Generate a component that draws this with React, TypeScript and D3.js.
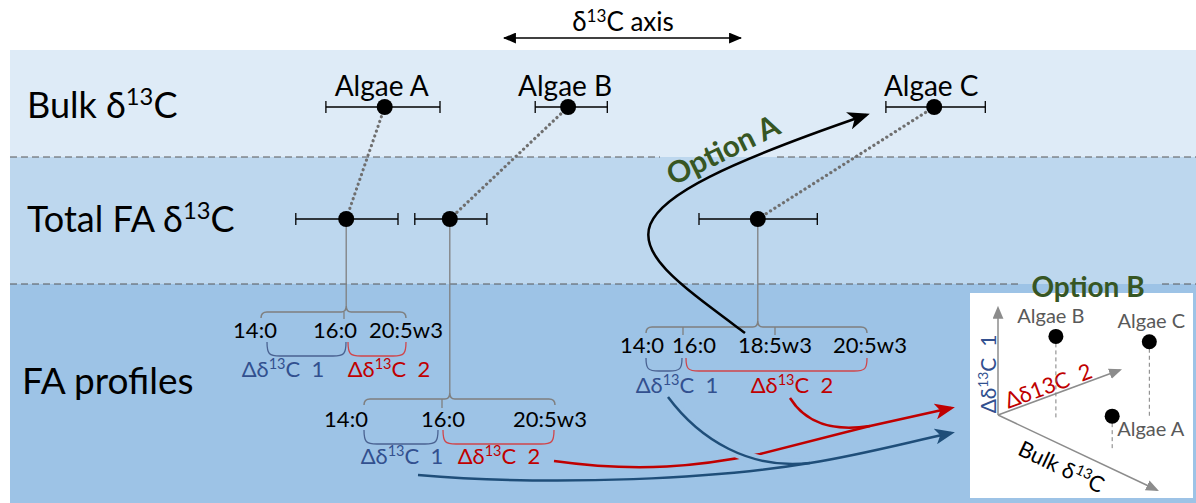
import React from "react";
import * as d3 from "d3";

const W = 1196;
const H = 503;

// Relative δ13C values (0–100 on the shared horizontal axis)
const algaeNames = ["Algae A", "Algae B", "Algae C"];
const bulkMean = [12.1, 38.3, 90.6];
const bulkLow = [3.7, 33.6, 83.7];
const bulkHigh = [20.0, 43.9, 97.9];
const totalFaMean = [6.6, 21.4, 65.4];
const totalFaLow = [-0.6, 16.4, 57.0];
const totalFaHigh = [14.0, 26.7, 73.9];

// Fatty acids measured in each profile
const profileAcidsA = ["14:0", "16:0", "20:5w3"];
const profileAcidsB = ["14:0", "16:0", "20:5w3"];
const profileAcidsC = ["14:0", "16:0", "18:5w3", "20:5w3"];

// Option B space: fraction along each axis
const insetNames = ["Algae A", "Algae B", "Algae C"];
const insetDelta2 = [0.18, 0.24, 0.68];
const insetBulk = [0.58, 0.18, 0.43];
const insetDelta1 = [0.32, 0.76, 0.7];

const FONT = "Lato, 'Open Sans', sans-serif";
const C = {
  band1: "#DEEBF7",
  band2: "#BDD7EE",
  band3: "#9DC3E6",
  dash: "#595959",
  grey: "#7F7F7F",
  blueText: "#32508F",
  blue: "#1F4E79",
  red: "#C00000",
  green: "#375623",
  insetText: "#595959",
};

const x = d3.scaleLinear().domain([0, 100]).range([300, 1000]);
const Y_BULK = 107;
const Y_TOTAL = 219;

const profileLayout = [
  {
    acids: profileAcidsA, src: 0, braceY: 312, braceX: [261, 406], ticks: [344], tickEnd: 319,
    labelX: [255, 335, 406], labelY: 338, d1: [267, 346], d2: [348, 406], bracketY: [342, 356],
    d1X: 283, d2X: 389, deltaY: 377,
  },
  {
    acids: profileAcidsB, src: 1, braceY: 399, braceX: [364, 555], ticks: [442], tickEnd: 408,
    labelX: [346, 443, 550], labelY: 427, d1: [364, 438], d2: [443, 554], bracketY: [430, 444],
    d1X: 402, d2X: 499, deltaY: 464,
  },
  {
    acids: profileAcidsC, src: 2, braceY: 327, braceX: [646, 867], ticks: [683, 775], tickEnd: 335,
    labelX: [642, 694, 775, 870], labelY: 353, d1: [646, 682], d2: [686, 867], bracketY: [358, 371],
    d1X: 677, d2X: 792, deltaY: 393,
  },
];

function SupText(props: any) {
  const { x, y, size, fill, pre, sup, post, anchor = "start", transform, weight } = props;
  const s = size * 0.66;
  const shift = size * 0.36;
  return (
    <text
      x={x}
      y={y}
      fontSize={size}
      fill={fill}
      textAnchor={anchor}
      transform={transform}
      fontWeight={weight}
      style={{ whiteSpace: "pre" }}
    >
      <tspan>{pre}</tspan>
      <tspan fontSize={s} dy={-shift}>{sup}</tspan>
      <tspan dy={shift}>{post}</tspan>
    </text>
  );
}

function topBrace(x0: number, x1: number, y: number, xc: number) {
  const p = d3.path();
  p.moveTo(x0, y + 6);
  p.quadraticCurveTo(x0, y, x0 + 6, y);
  p.lineTo(xc - 5, y);
  p.quadraticCurveTo(xc, y, xc, y - 6);
  p.quadraticCurveTo(xc, y, xc + 5, y);
  p.lineTo(x1 - 6, y);
  p.quadraticCurveTo(x1, y, x1, y + 6);
  return p.toString();
}

function bottomBracket(x0: number, x1: number, yTop: number, yBot: number) {
  const r = Math.min(9, (x1 - x0) / 3);
  const p = d3.path();
  p.moveTo(x0, yTop);
  p.bezierCurveTo(x0, yBot - 2, x0 + 2, yBot, x0 + r + 4, yBot);
  p.lineTo(x1 - r - 4, yBot);
  p.bezierCurveTo(x1 - 2, yBot, x1, yBot - 2, x1, yTop);
  return p.toString();
}

function ErrorBar({ lo, hi, mean, y }: any) {
  return (
    <g>
      <line x1={x(lo)} x2={x(hi)} y1={y} y2={y} stroke="#000" strokeWidth={1.3} />
      <line x1={x(lo)} x2={x(lo)} y1={y - 6} y2={y + 6} stroke="#000" strokeWidth={1.3} />
      <line x1={x(hi)} x2={x(hi)} y1={y - 6} y2={y + 6} stroke="#000" strokeWidth={1.3} />
      <circle cx={x(mean)} cy={y} r={8} fill="#000" />
    </g>
  );
}

export default function App() {
  // Option B projected axes
  const O = [998, 415];
  const v1 = [0, -107];
  const v2 = [122, -45];
  const v3 = [159, 75];
  const insetPts = insetNames.map((n, i) => {
    const fx = O[0] + insetDelta2[i] * v2[0] + insetBulk[i] * v3[0];
    const fy = O[1] + insetDelta2[i] * v2[1] + insetBulk[i] * v3[1];
    return { name: n, fx, fy, px: fx + insetDelta1[i] * v1[0], py: fy + insetDelta1[i] * v1[1] };
  });
  const insetLabelPos: any = {
    "Algae A": { dx: 5, dy: 20, anchor: "start" },
    "Algae B": { dx: -5, dy: -13, anchor: "middle" },
    "Algae C": { dx: 2, dy: -14, anchor: "middle" },
  };

  // Option A connector
  const optA = d3.path();
  optA.moveTo(745, 333);
  optA.bezierCurveTo(620, 240, 575, 215, 866, 115);

  // Δδ13C transfer arrows
  const redLong = d3.path();
  redLong.moveTo(554, 461);
  redLong.bezierCurveTo(640, 473, 700, 466, 760, 454);
  redLong.lineTo(870, 426);
  redLong.lineTo(951, 408);
  const redShort = d3.path();
  redShort.moveTo(790, 398);
  redShort.bezierCurveTo(805, 422, 830, 432, 870, 426);
  const blueLong = d3.path();
  blueLong.moveTo(418, 475);
  blueLong.bezierCurveTo(560, 487, 720, 478, 810, 463);
  blueLong.bezierCurveTo(860, 455, 905, 443, 951, 433);
  const blueShort = d3.path();
  blueShort.moveTo(668, 397);
  blueShort.bezierCurveTo(700, 440, 750, 470, 810, 463);

  const bands = [
    { y0: 50, y1: 157, fill: C.band1 },
    { y0: 157, y1: 284, fill: C.band2 },
    { y0: 284, y1: H, fill: C.band3 },
  ];
  const dashes = [
    { y: 157, segs: [[10, 660], [777, W]] },
    { y: 284, segs: [[10, 1018], [1162, W]] },
  ];

  return (
    <svg
      width={W}
      height={H}
      style={{ position: "absolute", left: 0, top: 0, fontFamily: FONT }}
    >
      <defs>
        <marker id="tri" viewBox="0 0 12 10" refX={11} refY={5} markerWidth={13} markerHeight={11}
          orient="auto-start-reverse" markerUnits="userSpaceOnUse">
          <path d="M0,0 L12,5 L0,10 Z" fill="#000" />
        </marker>
        <marker id="triGrey" viewBox="0 0 12 10" refX={10} refY={5} markerWidth={13} markerHeight={11}
          orient="auto" markerUnits="userSpaceOnUse">
          <path d="M0,0 L12,5 L0,10 Z" fill="#8C8C8C" />
        </marker>
        <marker id="stealthBlack" viewBox="0 0 22 18" refX={18} refY={9} markerWidth={22} markerHeight={18}
          orient="auto" markerUnits="userSpaceOnUse">
          <path d="M0,0 L22,9 L0,18 L6,9 Z" fill="#000" />
        </marker>
        <marker id="stealthRed" viewBox="0 0 20 16" refX={16} refY={8} markerWidth={20} markerHeight={16}
          orient="auto" markerUnits="userSpaceOnUse">
          <path d="M0,0 L20,8 L0,16 L5,8 Z" fill={C.red} />
        </marker>
        <marker id="stealthBlue" viewBox="0 0 20 16" refX={16} refY={8} markerWidth={20} markerHeight={16}
          orient="auto" markerUnits="userSpaceOnUse">
          <path d="M0,0 L20,8 L0,16 L5,8 Z" fill={C.blue} />
        </marker>
      </defs>

      <rect x={0} y={0} width={W} height={H} fill="#fff" />
      {bands.map((b, i) => (
        <rect key={i} x={10} y={b.y0} width={W - 10} height={b.y1 - b.y0} fill={b.fill} />
      ))}
      {dashes.map((d, i) =>
        d.segs.map((s, j) => (
          <line key={`${i}-${j}`} x1={s[0]} x2={s[1]} y1={d.y} y2={d.y}
            stroke={C.dash} strokeWidth={1.2} strokeDasharray="7 4" />
        ))
      )}

      {/* axis header */}
      <SupText x={623} y={31} size={26} fill="#000" anchor="middle" pre="δ" sup="13" post="C axis" />
      <line x1={504} x2={741} y1={38} y2={38} stroke="#000" strokeWidth={1.5}
        markerStart="url(#tri)" markerEnd="url(#tri)" />

      {/* row labels */}
      <SupText x={27} y={118} size={36} fill="#000" pre="Bulk δ" sup="13" post="C" />
      <SupText x={27} y={232} size={36} fill="#000" pre="Total FA δ" sup="13" post="C" />
      <text x={22} y={394} fontSize={37} fill="#000">FA profiles</text>

      {/* dotted links bulk → total FA */}
      {algaeNames.map((n, i) => (
        <line key={n} x1={x(bulkMean[i])} y1={Y_BULK} x2={x(totalFaMean[i])} y2={Y_TOTAL}
          stroke="#6F6F6F" strokeWidth={3.2} strokeDasharray="0.1 5" strokeLinecap="round" />
      ))}

      {/* vertical stems to profiles */}
      {profileLayout.map((p, i) => (
        <line key={i} x1={x(totalFaMean[p.src])} x2={x(totalFaMean[p.src])}
          y1={Y_TOTAL} y2={p.braceY - 6} stroke={C.grey} strokeWidth={1.3} />
      ))}

      {/* bulk and total FA error bars */}
      {algaeNames.map((n, i) => (
        <g key={n}>
          <text x={x(bulkMean[i]) - 3} y={96} fontSize={28} textAnchor="middle" fill="#000">{n}</text>
          <ErrorBar lo={bulkLow[i]} hi={bulkHigh[i]} mean={bulkMean[i]} y={Y_BULK} />
          <ErrorBar lo={totalFaLow[i]} hi={totalFaHigh[i]} mean={totalFaMean[i]} y={Y_TOTAL} />
        </g>
      ))}

      {/* FA profiles */}
      {profileLayout.map((p, i) => (
        <g key={i}>
          <path d={topBrace(p.braceX[0], p.braceX[1], p.braceY, x(totalFaMean[p.src]))}
            fill="none" stroke={C.grey} strokeWidth={1.5} />
          {p.ticks.map((t) => (
            <line key={t} x1={t} x2={t} y1={p.braceY} y2={p.tickEnd} stroke={C.grey} strokeWidth={1.3} />
          ))}
          {p.acids.map((a, j) => (
            <text key={j} x={p.labelX[j]} y={p.labelY} fontSize={22} textAnchor="middle" fill="#000">{a}</text>
          ))}
          <path d={bottomBracket(p.d1[0], p.d1[1], p.bracketY[0], p.bracketY[1])}
            fill="none" stroke="#4A6291" strokeWidth={1.3} />
          <path d={bottomBracket(p.d2[0], p.d2[1], p.bracketY[0], p.bracketY[1])}
            fill="none" stroke="#D0454A" strokeWidth={1.3} />
          <SupText x={p.d1X} y={p.deltaY} size={22} fill={C.blueText} anchor="middle"
            pre="Δδ" sup="13" post={"C  1"} />
          <SupText x={p.d2X} y={p.deltaY} size={22} fill={C.red} anchor="middle"
            pre="Δδ" sup="13" post={"C  2"} />
        </g>
      ))}

      {/* Option A */}
      <path d={optA.toString()} fill="none" stroke="#000" strokeWidth={2.5} markerEnd="url(#stealthBlack)" />
      <text transform="translate(723,150) rotate(-26)" textAnchor="middle" dy="0.35em"
        fontSize={30} fontWeight={700} fill={C.green}>Option A</text>

      {/* transfer arrows into Option B */}
      <path d={redLong.toString()} fill="none" stroke={C.red} strokeWidth={2.5} markerEnd="url(#stealthRed)" />
      <path d={redShort.toString()} fill="none" stroke={C.red} strokeWidth={2.5} />
      <path d={blueShort.toString()} fill="none" stroke={C.band3} strokeWidth={10} />
      <path d={blueLong.toString()} fill="none" stroke={C.blue} strokeWidth={2.5} markerEnd="url(#stealthBlue)" />
      <path d={blueShort.toString()} fill="none" stroke={C.blue} strokeWidth={2.5} />

      {/* Option B panel */}
      <rect x={970} y={293} width={223} height={205} fill="#fff" />
      <text x={1088} y={297} fontSize={28} fontWeight={700} textAnchor="middle" fill={C.green}>Option B</text>
      {[v1, v2, v3].map((v, i) => (
        <line key={i} x1={O[0]} y1={O[1]} x2={O[0] + v[0]} y2={O[1] + v[1]}
          stroke="#8C8C8C" strokeWidth={1.5} markerEnd="url(#triGrey)" />
      ))}
      <SupText transform="translate(996,374) rotate(-90)" x={0} y={0} size={21} fill={C.blueText}
        anchor="middle" pre="Δδ" sup="13" post={"C  1"} />
      <text transform="translate(1051,393) rotate(-20.2)" textAnchor="middle" fontSize={22}
        fill={C.red} style={{ whiteSpace: "pre" }}>{"Δδ13C  2"}</text>
      <SupText transform="translate(1058,474) rotate(25.3)" x={0} y={0} size={22} fill="#000"
        anchor="middle" pre="Bulk δ" sup="13" post="C" />
      {insetPts.map((p) => {
        const lp = insetLabelPos[p.name];
        return (
          <g key={p.name}>
            <line x1={p.px} x2={p.fx} y1={p.py} y2={p.fy} stroke="#7F7F7F" strokeWidth={1}
              strokeDasharray="4 3" />
            <circle cx={p.px} cy={p.py} r={7.5} fill="#000" />
            <text x={p.px + lp.dx} y={p.py + lp.dy} fontSize={20} textAnchor={lp.anchor}
              fill={C.insetText}>{p.name}</text>
          </g>
        );
      })}
    </svg>
  );
}
